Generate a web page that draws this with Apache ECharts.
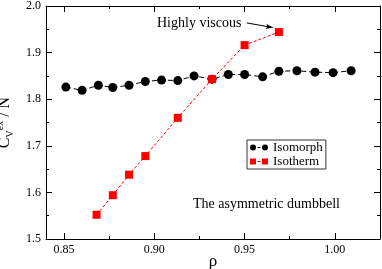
<!DOCTYPE html>
<html>
<head>
<meta charset="utf-8">
<script src="https://cdn.jsdelivr.net/npm/echarts@6/dist/echarts.min.js"></script>
<style>html,body{margin:0;padding:0;background:#fff}#c{width:382px;height:269px}</style>
</head>
<body>
<div id="c"></div>
<script>
const isomorphRho = [0.851,0.860,0.869,0.877,0.886,0.895,0.904,0.913,0.922,0.932,0.941,0.950,0.960,0.969,0.979,0.989,0.999,1.009];
const isomorphCv  = [1.826,1.819,1.830,1.825,1.830,1.838,1.841,1.840,1.850,1.843,1.853,1.853,1.848,1.860,1.861,1.858,1.857,1.861];
const isothermRho = [0.868,0.877,0.886,0.895,0.913,0.932,0.950,0.969];
const isothermCv  = [1.552,1.594,1.638,1.678,1.760,1.843,1.916,1.944];
const xMajorTicks = [0.85,0.90,0.95,1.00];
const xMinorTicks = [0.875,0.925,0.975];
const arrowFrom = [0.9512,1.9637];
const arrowTo = [0.9656,1.9538];

const FONT = '"Liberation Serif", "Times New Roman", serif';
const chart = echarts.init(document.getElementById('c'), null, {renderer:'canvas'});
const zip = (a,b)=>a.map((v,i)=>[v,b[i]]);

const xBase = {type:'value', min:0.84, max:1.025, gridIndex:0, splitLine:{show:false}};
const circleIcon = 'path://M0,3A3,3,0,1,0,6,3A3,3,0,1,0,0,3Z M7.5,2.5H10.5V3.5H7.5Z M12,3A3,3,0,1,0,18,3A3,3,0,1,0,12,3Z';
const squareIcon = 'path://M0,0H6V6H0Z M7.5,2.5H10.5V3.5H7.5Z M12,0H18V6H12Z';

chart.setOption({
  animation:false,
  backgroundColor:'#fff',
  grid:{left:46, right:2, top:6, bottom:30, containLabel:false, outerBoundsMode:'none'},
  xAxis:[
    Object.assign({}, xBase, {position:'bottom',
      axisLine:{show:true, lineStyle:{color:'#000', width:1}},
      axisTick:{show:true, inside:true, length:6, customValues:xMajorTicks, lineStyle:{color:'#000'}},
      axisLabel:{show:true, customValues:xMajorTicks, formatter:v=>v.toFixed(2), fontFamily:FONT, fontSize:12, color:'#000', margin:5},
      name:'ρ', nameLocation:'middle', nameGap:14, nameMoveOverlap:false,
      nameTextStyle:{fontFamily:FONT, fontSize:17, color:'#000'}}),
    Object.assign({}, xBase, {position:'bottom',
      axisLine:{show:false},
      axisTick:{show:true, inside:true, length:3, customValues:xMinorTicks, lineStyle:{color:'#000'}},
      axisLabel:{show:false}}),
    Object.assign({}, xBase, {position:'top',
      axisLine:{show:true, lineStyle:{color:'#000', width:1}},
      axisTick:{show:true, inside:true, length:6, customValues:xMajorTicks, lineStyle:{color:'#000'}},
      axisLabel:{show:false}}),
    Object.assign({}, xBase, {position:'top',
      axisLine:{show:false},
      axisTick:{show:true, inside:true, length:3, customValues:xMinorTicks, lineStyle:{color:'#000'}},
      axisLabel:{show:false}})
  ],
  yAxis:[
    {type:'value', min:1.5, max:2.0, interval:0.1, position:'left', splitLine:{show:false},
      axisLine:{show:true, lineStyle:{color:'#000', width:1}},
      axisTick:{show:true, inside:true, length:6, lineStyle:{color:'#000'}},
      minorTick:{show:true, splitNumber:2, length:3, lineStyle:{color:'#000'}},
      axisLabel:{formatter:v=>v.toFixed(1), fontFamily:FONT, fontSize:12, color:'#000', margin:5},
      name:'{c|C}{v|V}{e|ex}{n| / N}', nameLocation:'middle', nameRotate:90, nameGap:26,
      nameTextStyle:{fontFamily:FONT, color:'#000', rich:{
        c:{fontFamily:FONT, fontSize:16, lineHeight:20, color:'#000'},
        v:{fontFamily:FONT, fontSize:10, lineHeight:20, verticalAlign:'bottom', color:'#000'},
        e:{fontFamily:FONT, fontSize:10, lineHeight:20, verticalAlign:'top', color:'#000'},
        n:{fontFamily:FONT, fontSize:16, lineHeight:20, color:'#000'}
      }}},
    {type:'value', min:1.5, max:2.0, interval:0.1, position:'right', splitLine:{show:false},
      axisLine:{show:true, lineStyle:{color:'#000', width:1}},
      axisTick:{show:true, inside:true, length:6, lineStyle:{color:'#000'}},
      minorTick:{show:true, splitNumber:2, length:3, lineStyle:{color:'#000'}},
      axisLabel:{show:false}}
  ],
  legend:{
    orient:'vertical', left:247, top:140,
    data:[{name:'Isomorph', icon:circleIcon}, {name:'Isotherm', icon:squareIcon}],
    itemWidth:18, itemHeight:6, itemGap:1,
    padding:[1,3,1,3],
    backgroundColor:'#fff', borderColor:'#333', borderWidth:1, borderRadius:0,
    textStyle:{fontFamily:FONT, fontSize:13, color:'#000', lineHeight:13}
  },
  graphic:[
    {type:'text', x:157, y:23, style:{text:'Highly viscous', font:'14px ' + FONT, fill:'#000', align:'left', verticalAlign:'middle'}},
    {type:'text', x:193, y:204, style:{text:'The asymmetric dumbbell', font:'14px ' + FONT, fill:'#000', align:'left', verticalAlign:'middle'}}
  ],
  series:[
    {name:'Isomorph', type:'line', xAxisIndex:0, yAxisIndex:0, data:zip(isomorphRho, isomorphCv),
      symbol:'circle', symbolSize:9, itemStyle:{color:'#000'},
      lineStyle:{color:'#000', width:1, type:[5,3]}, z:2},
    {name:'Isotherm', type:'line', xAxisIndex:0, yAxisIndex:0, data:zip(isothermRho, isothermCv),
      symbol:'rect', symbolSize:8, itemStyle:{color:'#ff0000'},
      lineStyle:{color:'#ff0000', width:1, type:[3,2]}, z:3,
      markLine:{silent:true, symbol:['none','arrow'], symbolSize:[4,7], label:{show:false},
        lineStyle:{color:'#000', width:1, type:'solid'},
        data:[[{coord:arrowFrom},{coord:arrowTo}]]}}
  ]
});
</script>
</body>
</html>
